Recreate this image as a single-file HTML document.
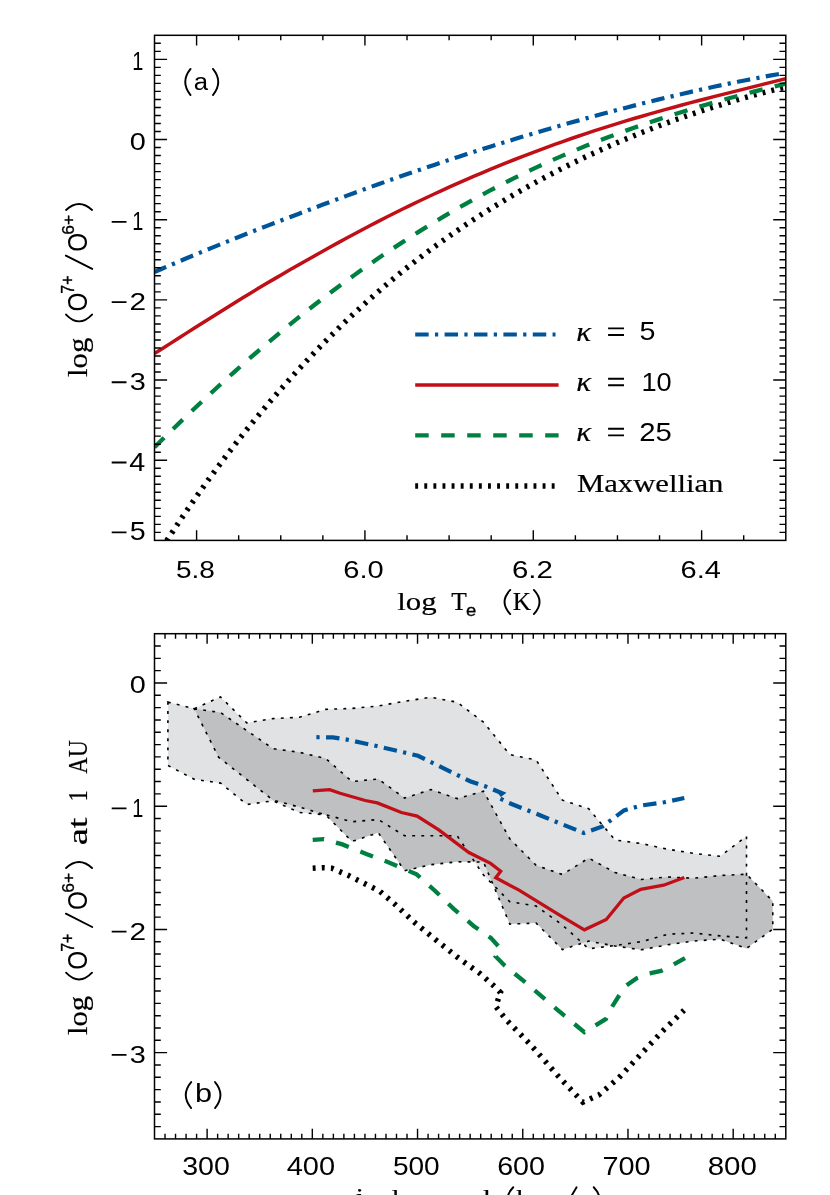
<!DOCTYPE html><html lang="en"><head><meta charset="utf-8"><title>fig</title><style>html,body{margin:0;padding:0;background:#fff}svg{display:block;will-change:transform}</style></head><body><svg width="830" height="1195" viewBox="0 0 830 1195"><rect width="830" height="1195" fill="#fff"/><defs><clipPath id="ca"><rect x="154.5" y="35.3" width="631.3" height="505.09999999999997"/></clipPath><clipPath id="cb"><rect x="154.5" y="633.7" width="631.3" height="505.20000000000005"/></clipPath></defs><g clip-path="url(#ca)" fill="none" stroke-linejoin="round"><path d="M154.5 559.84 L162.49 547.23 L170.48 534.89 L178.47 522.81 L186.46 510.99 L194.46 499.42 L202.45 488.1 L210.44 477.02 L218.43 466.18 L226.42 455.57 L234.41 445.19 L242.4 435.04 L250.39 425.1 L258.38 415.39 L266.38 405.88 L274.37 396.58 L282.36 387.46 L290.35 378.47 L298.34 369.68 L306.33 361.08 L314.32 352.66 L322.31 344.43 L330.31 336.39 L338.3 328.51 L346.29 320.81 L354.28 313.28 L362.27 305.91 L370.26 298.71 L378.25 291.67 L386.24 284.78 L394.23 278.04 L402.23 271.48 L410.22 265.13 L418.21 258.92 L426.2 252.86 L434.19 246.93 L442.18 241.13 L450.17 235.47 L458.16 229.93 L466.15 224.52 L474.15 219.23 L482.14 214.06 L490.13 209.01 L498.12 204.08 L506.11 199.25 L514.1 194.54 L522.09 189.94 L530.08 185.44 L538.07 181.04 L546.07 176.75 L554.06 172.56 L562.05 168.46 L570.04 164.46 L578.03 160.55 L586.02 156.74 L594.01 153.01 L602 149.37 L609.99 145.82 L617.99 142.35 L625.98 138.97 L633.97 135.67 L641.96 132.45 L649.95 129.31 L657.94 126.25 L665.93 123.26 L673.92 120.35 L681.92 117.51 L689.91 114.75 L697.9 112.06 L705.89 109.44 L713.88 106.89 L721.87 104.41 L729.86 102 L737.85 99.66 L745.84 97.39 L753.84 95.18 L761.83 93.04 L769.82 90.97 L777.81 88.96 L785.8 87.02" stroke="#000" stroke-width="5.5" stroke-dasharray="2.9 6.2" stroke-dashoffset="-4.4"/><path d="M154.5 447.2 L162.49 439.29 L170.48 431.47 L178.47 423.73 L186.46 416.07 L194.46 408.5 L202.45 401.02 L210.44 393.62 L218.43 386.29 L226.42 379.02 L234.41 371.84 L242.4 364.75 L250.39 357.74 L258.38 350.83 L266.38 344.01 L274.37 337.28 L282.36 330.65 L290.35 324.1 L298.34 317.65 L306.33 311.29 L314.32 305.02 L322.31 298.84 L330.31 292.76 L338.3 286.78 L346.29 280.9 L354.28 275.12 L362.27 269.43 L370.26 263.84 L378.25 258.34 L386.24 252.93 L394.23 247.61 L402.23 242.37 L410.22 237.2 L418.21 232.12 L426.2 227.14 L434.19 222.24 L442.18 217.43 L450.17 212.72 L458.16 208.09 L466.15 203.55 L474.15 199.09 L482.14 194.73 L490.13 190.47 L498.12 186.3 L506.11 182.21 L514.1 178.2 L522.09 174.28 L530.08 170.43 L538.07 166.67 L546.07 162.99 L554.06 159.39 L562.05 155.87 L570.04 152.46 L578.03 149.13 L586.02 145.86 L594.01 142.67 L602 139.56 L609.99 136.51 L617.99 133.53 L625.98 130.61 L633.97 127.76 L641.96 124.98 L649.95 122.25 L657.94 119.59 L665.93 116.99 L673.92 114.44 L681.92 111.94 L689.91 109.5 L697.9 107.12 L705.89 104.78 L713.88 102.48 L721.87 100.24 L729.86 98.03 L737.85 95.87 L745.84 93.75 L753.84 91.66 L761.83 89.61 L769.82 87.59 L777.81 85.6 L785.8 83.63" stroke="#008040" stroke-width="4.3" stroke-dasharray="13.5 12.5" stroke-dashoffset="0"/><path d="M154.5 353.62 L162.49 348.48 L170.48 343.35 L178.47 338.23 L186.46 333.13 L194.46 328.05 L202.45 322.98 L210.44 317.94 L218.43 312.93 L226.42 307.94 L234.41 302.98 L242.4 298.05 L250.39 293.16 L258.38 288.36 L266.38 283.6 L274.37 278.88 L282.36 274.2 L290.35 269.56 L298.34 264.96 L306.33 260.42 L314.32 255.91 L322.31 251.46 L330.31 247.06 L338.3 242.64 L346.29 238.28 L354.28 233.97 L362.27 229.72 L370.26 225.52 L378.25 221.38 L386.24 217.29 L394.23 213.26 L402.23 209.29 L410.22 205.38 L418.21 201.52 L426.2 197.72 L434.19 193.99 L442.18 190.31 L450.17 186.69 L458.16 183.13 L466.15 179.63 L474.15 176.2 L482.14 172.82 L490.13 169.49 L498.12 166.19 L506.11 162.94 L514.1 159.75 L522.09 156.62 L530.08 153.55 L538.07 150.53 L546.07 147.57 L554.06 144.66 L562.05 141.81 L570.04 139.01 L578.03 136.26 L586.02 133.56 L594.01 130.91 L602 128.32 L609.99 125.81 L617.99 123.34 L625.98 120.92 L633.97 118.54 L641.96 116.2 L649.95 113.9 L657.94 111.63 L665.93 109.4 L673.92 107.21 L681.92 105.04 L689.91 102.91 L697.9 100.8 L705.89 98.71 L713.88 96.65 L721.87 94.61 L729.86 92.59 L737.85 90.58 L745.84 88.58 L753.84 86.59 L761.83 84.61 L769.82 82.63 L777.81 80.65 L785.8 78.67" stroke="#c00f17" stroke-width="3.5"/><path d="M154.5 271.97 L162.49 268.5 L170.48 265.07 L178.47 261.67 L186.46 258.29 L194.46 254.95 L202.45 251.63 L210.44 248.35 L218.43 245.09 L226.42 241.86 L234.41 238.66 L242.4 235.48 L250.39 232.33 L258.38 229.2 L266.38 226.11 L274.37 223.03 L282.36 219.98 L290.35 216.96 L298.34 213.96 L306.33 210.9 L314.32 207.85 L322.31 204.83 L330.31 201.82 L338.3 198.84 L346.29 195.88 L354.28 192.95 L362.27 190.04 L370.26 187.15 L378.25 184.28 L386.24 181.43 L394.23 178.61 L402.23 175.81 L410.22 173.05 L418.21 170.32 L426.2 167.61 L434.19 164.92 L442.18 162.25 L450.17 159.6 L458.16 156.97 L466.15 154.37 L474.15 151.79 L482.14 149.23 L490.13 146.7 L498.12 144.19 L506.11 141.72 L514.1 139.27 L522.09 136.86 L530.08 134.46 L538.07 132.09 L546.07 129.74 L554.06 127.42 L562.05 125.12 L570.04 122.85 L578.03 120.61 L586.02 118.39 L594.01 116.19 L602 114.03 L609.99 111.89 L617.99 109.77 L625.98 107.69 L633.97 105.64 L641.96 103.61 L649.95 101.61 L657.94 99.65 L665.93 97.72 L673.92 95.81 L681.92 93.94 L689.91 92.1 L697.9 90.3 L705.89 88.53 L713.88 86.8 L721.87 85.1 L729.86 83.43 L737.85 81.81 L745.84 80.22 L753.84 78.67 L761.83 77.16 L769.82 75.69 L777.81 74.26 L785.8 72.88" stroke="#00559a" stroke-width="4.2" stroke-dasharray="13.4 6.27 3.23 6.36" stroke-dashoffset="0.7"/></g><g fill="none"><path d="M415.2 334.5H555.5" stroke="#00559a" stroke-width="4.2" stroke-dasharray="13.45 6.3 3.25 6.4"/><path d="M415.2 385H558.6" stroke="#c00f17" stroke-width="3.7"/><path d="M415.2 435.4H558.6" stroke="#008040" stroke-width="4.3" stroke-dasharray="13.5 12.5"/><path d="M415.2 486H555.5" stroke="#000" stroke-width="5.5" stroke-dasharray="2.9 6.2"/></g><path d="M196.59 540.4v-10.1M196.59 35.3v10.1M238.67 540.4v-5.05M238.67 35.3v5.05M280.76 540.4v-5.05M280.76 35.3v5.05M322.85 540.4v-5.05M322.85 35.3v5.05M364.93 540.4v-10.1M364.93 35.3v10.1M407.02 540.4v-5.05M407.02 35.3v5.05M449.11 540.4v-5.05M449.11 35.3v5.05M491.19 540.4v-5.05M491.19 35.3v5.05M533.28 540.4v-10.1M533.28 35.3v10.1M575.37 540.4v-5.05M575.37 35.3v5.05M617.45 540.4v-5.05M617.45 35.3v5.05M659.54 540.4v-5.05M659.54 35.3v5.05M701.63 540.4v-10.1M701.63 35.3v10.1M743.71 540.4v-5.05M743.71 35.3v5.05M154.5 532.38h6.3M785.8 532.38h-6.3M154.5 524.37h6.3M785.8 524.37h-6.3M154.5 516.35h6.3M785.8 516.35h-6.3M154.5 508.33h6.3M785.8 508.33h-6.3M154.5 500.31h6.3M785.8 500.31h-6.3M154.5 492.3h6.3M785.8 492.3h-6.3M154.5 484.28h6.3M785.8 484.28h-6.3M154.5 476.26h6.3M785.8 476.26h-6.3M154.5 468.24h6.3M785.8 468.24h-6.3M154.5 460.23h12.6M785.8 460.23h-12.6M154.5 452.21h6.3M785.8 452.21h-6.3M154.5 444.19h6.3M785.8 444.19h-6.3M154.5 436.17h6.3M785.8 436.17h-6.3M154.5 428.16h6.3M785.8 428.16h-6.3M154.5 420.14h6.3M785.8 420.14h-6.3M154.5 412.12h6.3M785.8 412.12h-6.3M154.5 404.1h6.3M785.8 404.1h-6.3M154.5 396.09h6.3M785.8 396.09h-6.3M154.5 388.07h6.3M785.8 388.07h-6.3M154.5 380.05h12.6M785.8 380.05h-12.6M154.5 372.03h6.3M785.8 372.03h-6.3M154.5 364.02h6.3M785.8 364.02h-6.3M154.5 356h6.3M785.8 356h-6.3M154.5 347.98h6.3M785.8 347.98h-6.3M154.5 339.96h6.3M785.8 339.96h-6.3M154.5 331.95h6.3M785.8 331.95h-6.3M154.5 323.93h6.3M785.8 323.93h-6.3M154.5 315.91h6.3M785.8 315.91h-6.3M154.5 307.89h6.3M785.8 307.89h-6.3M154.5 299.88h12.6M785.8 299.88h-12.6M154.5 291.86h6.3M785.8 291.86h-6.3M154.5 283.84h6.3M785.8 283.84h-6.3M154.5 275.82h6.3M785.8 275.82h-6.3M154.5 267.81h6.3M785.8 267.81h-6.3M154.5 259.79h6.3M785.8 259.79h-6.3M154.5 251.77h6.3M785.8 251.77h-6.3M154.5 243.75h6.3M785.8 243.75h-6.3M154.5 235.74h6.3M785.8 235.74h-6.3M154.5 227.72h6.3M785.8 227.72h-6.3M154.5 219.7h12.6M785.8 219.7h-12.6M154.5 211.68h6.3M785.8 211.68h-6.3M154.5 203.67h6.3M785.8 203.67h-6.3M154.5 195.65h6.3M785.8 195.65h-6.3M154.5 187.63h6.3M785.8 187.63h-6.3M154.5 179.61h6.3M785.8 179.61h-6.3M154.5 171.6h6.3M785.8 171.6h-6.3M154.5 163.58h6.3M785.8 163.58h-6.3M154.5 155.56h6.3M785.8 155.56h-6.3M154.5 147.54h6.3M785.8 147.54h-6.3M154.5 139.53h12.6M785.8 139.53h-12.6M154.5 131.51h6.3M785.8 131.51h-6.3M154.5 123.49h6.3M785.8 123.49h-6.3M154.5 115.47h6.3M785.8 115.47h-6.3M154.5 107.46h6.3M785.8 107.46h-6.3M154.5 99.44h6.3M785.8 99.44h-6.3M154.5 91.42h6.3M785.8 91.42h-6.3M154.5 83.4h6.3M785.8 83.4h-6.3M154.5 75.39h6.3M785.8 75.39h-6.3M154.5 67.37h6.3M785.8 67.37h-6.3M154.5 59.35h12.6M785.8 59.35h-12.6M154.5 51.33h6.3M785.8 51.33h-6.3M154.5 43.32h6.3M785.8 43.32h-6.3" stroke="#000" stroke-width="1.4" fill="none"/><rect x="154.5" y="35.3" width="631.3" height="505.1" fill="none" stroke="#000" stroke-width="1.5"/><g clip-path="url(#cb)" stroke-linejoin="miter"><path d="M167.9 702 L194.2 708.8 L220.5 696.9 L246.8 722.9 L273.1 718.6 L299.4 717.3 L325.7 709.4 L352 708.4 L378.3 706 L404.6 701.2 L430.9 697.3 L457.2 702.2 L483.5 722.2 L509.8 754.6 L536.1 760 L562.4 800.2 L588.7 808.7 L615 840 L641.3 843.5 L667.6 849.2 L693.9 853.4 L720.2 856.3 L746.5 836.2 L746.5 937.8 L720.2 935.9 L693.9 933 L667.6 934.3 L641.3 941.7 L615 945.5 L588.7 948.8 L562.4 925 L536.1 906 L509.8 901.7 L483.5 875.1 L457.2 835.8 L430.9 835.8 L404.6 835.8 L378.3 819.5 L352 821.7 L325.7 814.8 L299.4 812.5 L273.1 800.8 L246.8 804.5 L220.5 783.1 L194.2 779.3 L167.9 765.5Z" fill="#e1e2e3"/><path d="M194.2 708.8 L220.5 712.5 L246.8 730.6 L273.1 748.7 L299.4 752.3 L325.7 758.5 L352 781.5 L378.3 779 L404.6 798.1 L430.9 789.6 L457.2 798.6 L483.5 791.3 L509.8 838.8 L536.1 865.3 L562.4 874.5 L588.7 858.1 L615 872.5 L641.3 879.5 L667.6 877 L693.9 878.2 L720.2 875.5 L746.5 874.2 L772.8 901.2 L772.8 929.2 L746.5 948.4 L720.2 939.2 L693.9 941 L667.6 944.8 L641.3 949.8 L615 946 L588.7 941.1 L562.4 949.6 L536.1 923.1 L509.8 924.1 L483.5 862 L457.2 861.8 L430.9 864.7 L404.6 870.7 L378.3 832.7 L352 841.5 L325.7 814.9 L299.4 807.1 L273.1 800.2 L246.8 779.5 L218.6 757.2Z" fill="#bfc0c2"/><path d="M167.9 702 L194.2 708.8 L220.5 696.9 L246.8 722.9 L273.1 718.6 L299.4 717.3 L325.7 709.4 L352 708.4 L378.3 706 L404.6 701.2 L430.9 697.3 L457.2 702.2 L483.5 722.2 L509.8 754.6 L536.1 760 L562.4 800.2 L588.7 808.7 L615 840 L641.3 843.5 L667.6 849.2 L693.9 853.4 L720.2 856.3 L746.5 836.2 L746.5 937.8 L720.2 935.9 L693.9 933 L667.6 934.3 L641.3 941.7 L615 945.5 L588.7 948.8 L562.4 925 L536.1 906 L509.8 901.7 L483.5 875.1 L457.2 835.8 L430.9 835.8 L404.6 835.8 L378.3 819.5 L352 821.7 L325.7 814.8 L299.4 812.5 L273.1 800.8 L246.8 804.5 L220.5 783.1 L194.2 779.3 L167.9 765.5Z" fill="none" stroke="#000" stroke-width="1.6" stroke-dasharray="2.9 6.2"/><path d="M194.2 708.8 L220.5 712.5 L246.8 730.6 L273.1 748.7 L299.4 752.3 L325.7 758.5 L352 781.5 L378.3 779 L404.6 798.1 L430.9 789.6 L457.2 798.6 L483.5 791.3 L509.8 838.8 L536.1 865.3 L562.4 874.5 L588.7 858.1 L615 872.5 L641.3 879.5 L667.6 877 L693.9 878.2 L720.2 875.5 L746.5 874.2 L772.8 901.2 L772.8 929.2 L746.5 948.4 L720.2 939.2 L693.9 941 L667.6 944.8 L641.3 949.8 L615 946 L588.7 941.1 L562.4 949.6 L536.1 923.1 L509.8 924.1 L483.5 862 L457.2 861.8 L430.9 864.7 L404.6 870.7 L378.3 832.7 L352 841.5 L325.7 814.9 L299.4 807.1 L273.1 800.2 L246.8 779.5 L218.6 757.2Z" fill="none" stroke="#000" stroke-width="1.6" stroke-dasharray="2.9 6.2"/><path d="M312.7 868.2 L322.5 867.7 L331.8 868.2 L347.7 875.1 L363.6 883.1 L379.5 891 L394.1 903.5 L414 922 L435.2 939.3 L456.4 956.5 L480.2 973.7 L493.5 985.6 L500.5 992.5 L495.7 1006.5 L506.3 1019.8 L530.8 1044.9 L558.3 1076.2 L582.9 1102.2 L598.8 1095 L619 1077.6 L639.3 1055.9 L662.4 1031.3 L684.1 1010.2" fill="none" stroke="#000" stroke-width="5.5" stroke-dasharray="2.9 6.2"/><path d="M312.7 839.9 L323.9 839.1 L342.4 844.4 L366.3 853.9 L390.1 862.9 L416.6 874.3 L435.2 891 L453.7 908.8 L473.6 926 L490.8 937.9 L500.5 948.5 L495.7 956.5 L504.8 965.7 L525.1 982.2 L545.3 999.5 L564.1 1015.4 L584.3 1032.2 L606 1018.9 L612.4 1006.2 L619 995.8 L626.3 985.4 L636.4 978.4 L648 973.8 L661 970.9 L672.5 965.1 L685 958.2" fill="none" stroke="#008040" stroke-width="4.3" stroke-dasharray="13.5 12.5" stroke-dashoffset="2.2"/><path d="M312.8 790.8 L329.7 789.6 L340 793.3 L365.3 800.5 L377.3 802.9 L401.4 812.5 L417.1 816.1 L438.8 829.9 L468.9 852.5 L490.6 863.4 L500.7 871.3 L495.7 877.8 L518.6 889.9 L560 915.4 L584.4 929.8 L606.3 919.5 L623.8 898 L640.8 889.4 L663.6 885.2 L684.3 877.5" fill="none" stroke="#c00f17" stroke-width="3.3" stroke-linejoin="miter"/><path d="M316.4 737.2 L332.8 737.4 L346.8 739.6 L361.5 742.8 L375.5 745.8 L389.3 749 L403.5 752.3 L418 755.8 L431 762.2 L470.1 781.2 L484.6 786 L502.3 793.3 L497.3 797.2 L509 802.9 L521.6 808 L540 815.2 L560 823.4 L584 833 L602.5 826.5 L624 810.4 L641.3 805.5 L664.1 802.3 L684.3 798" fill="none" stroke="#00559a" stroke-width="4.2" stroke-dasharray="13.45 6.3 3.25 6.4" stroke-dashoffset="19.75"/></g><path d="M165.02 1138.9v-5.05M165.02 633.7v5.05M175.54 1138.9v-5.05M175.54 633.7v5.05M186.06 1138.9v-5.05M186.06 633.7v5.05M196.59 1138.9v-5.05M196.59 633.7v5.05M207.11 1138.9v-10.1M207.11 633.7v10.1M217.63 1138.9v-5.05M217.63 633.7v5.05M228.15 1138.9v-5.05M228.15 633.7v5.05M238.67 1138.9v-5.05M238.67 633.7v5.05M249.19 1138.9v-5.05M249.19 633.7v5.05M259.72 1138.9v-5.05M259.72 633.7v5.05M270.24 1138.9v-5.05M270.24 633.7v5.05M280.76 1138.9v-5.05M280.76 633.7v5.05M291.28 1138.9v-5.05M291.28 633.7v5.05M301.8 1138.9v-5.05M301.8 633.7v5.05M312.32 1138.9v-10.1M312.32 633.7v10.1M322.85 1138.9v-5.05M322.85 633.7v5.05M333.37 1138.9v-5.05M333.37 633.7v5.05M343.89 1138.9v-5.05M343.89 633.7v5.05M354.41 1138.9v-5.05M354.41 633.7v5.05M364.93 1138.9v-5.05M364.93 633.7v5.05M375.46 1138.9v-5.05M375.46 633.7v5.05M385.98 1138.9v-5.05M385.98 633.7v5.05M396.5 1138.9v-5.05M396.5 633.7v5.05M407.02 1138.9v-5.05M407.02 633.7v5.05M417.54 1138.9v-10.1M417.54 633.7v10.1M428.06 1138.9v-5.05M428.06 633.7v5.05M438.58 1138.9v-5.05M438.58 633.7v5.05M449.11 1138.9v-5.05M449.11 633.7v5.05M459.63 1138.9v-5.05M459.63 633.7v5.05M470.15 1138.9v-5.05M470.15 633.7v5.05M480.67 1138.9v-5.05M480.67 633.7v5.05M491.19 1138.9v-5.05M491.19 633.7v5.05M501.71 1138.9v-5.05M501.71 633.7v5.05M512.24 1138.9v-5.05M512.24 633.7v5.05M522.76 1138.9v-10.1M522.76 633.7v10.1M533.28 1138.9v-5.05M533.28 633.7v5.05M543.8 1138.9v-5.05M543.8 633.7v5.05M554.32 1138.9v-5.05M554.32 633.7v5.05M564.85 1138.9v-5.05M564.85 633.7v5.05M575.37 1138.9v-5.05M575.37 633.7v5.05M585.89 1138.9v-5.05M585.89 633.7v5.05M596.41 1138.9v-5.05M596.41 633.7v5.05M606.93 1138.9v-5.05M606.93 633.7v5.05M617.45 1138.9v-5.05M617.45 633.7v5.05M627.98 1138.9v-10.1M627.98 633.7v10.1M638.5 1138.9v-5.05M638.5 633.7v5.05M649.02 1138.9v-5.05M649.02 633.7v5.05M659.54 1138.9v-5.05M659.54 633.7v5.05M670.06 1138.9v-5.05M670.06 633.7v5.05M680.58 1138.9v-5.05M680.58 633.7v5.05M691.11 1138.9v-5.05M691.11 633.7v5.05M701.63 1138.9v-5.05M701.63 633.7v5.05M712.15 1138.9v-5.05M712.15 633.7v5.05M722.67 1138.9v-5.05M722.67 633.7v5.05M733.19 1138.9v-10.1M733.19 633.7v10.1M743.71 1138.9v-5.05M743.71 633.7v5.05M754.24 1138.9v-5.05M754.24 633.7v5.05M764.76 1138.9v-5.05M764.76 633.7v5.05M775.28 1138.9v-5.05M775.28 633.7v5.05M154.5 1126.58h6.3M785.8 1126.58h-6.3M154.5 1114.26h6.3M785.8 1114.26h-6.3M154.5 1101.93h6.3M785.8 1101.93h-6.3M154.5 1089.61h6.3M785.8 1089.61h-6.3M154.5 1077.29h6.3M785.8 1077.29h-6.3M154.5 1064.97h6.3M785.8 1064.97h-6.3M154.5 1052.65h12.6M785.8 1052.65h-12.6M154.5 1040.32h6.3M785.8 1040.32h-6.3M154.5 1028h6.3M785.8 1028h-6.3M154.5 1015.68h6.3M785.8 1015.68h-6.3M154.5 1003.36h6.3M785.8 1003.36h-6.3M154.5 991.04h6.3M785.8 991.04h-6.3M154.5 978.71h6.3M785.8 978.71h-6.3M154.5 966.39h6.3M785.8 966.39h-6.3M154.5 954.07h6.3M785.8 954.07h-6.3M154.5 941.75h6.3M785.8 941.75h-6.3M154.5 929.43h12.6M785.8 929.43h-12.6M154.5 917.1h6.3M785.8 917.1h-6.3M154.5 904.78h6.3M785.8 904.78h-6.3M154.5 892.46h6.3M785.8 892.46h-6.3M154.5 880.14h6.3M785.8 880.14h-6.3M154.5 867.82h6.3M785.8 867.82h-6.3M154.5 855.5h6.3M785.8 855.5h-6.3M154.5 843.17h6.3M785.8 843.17h-6.3M154.5 830.85h6.3M785.8 830.85h-6.3M154.5 818.53h6.3M785.8 818.53h-6.3M154.5 806.21h12.6M785.8 806.21h-12.6M154.5 793.89h6.3M785.8 793.89h-6.3M154.5 781.56h6.3M785.8 781.56h-6.3M154.5 769.24h6.3M785.8 769.24h-6.3M154.5 756.92h6.3M785.8 756.92h-6.3M154.5 744.6h6.3M785.8 744.6h-6.3M154.5 732.28h6.3M785.8 732.28h-6.3M154.5 719.95h6.3M785.8 719.95h-6.3M154.5 707.63h6.3M785.8 707.63h-6.3M154.5 695.31h6.3M785.8 695.31h-6.3M154.5 682.99h12.6M785.8 682.99h-12.6M154.5 670.67h6.3M785.8 670.67h-6.3M154.5 658.34h6.3M785.8 658.34h-6.3M154.5 646.02h6.3M785.8 646.02h-6.3" stroke="#000" stroke-width="1.4" fill="none"/><rect x="154.5" y="633.7" width="631.3" height="505.2" fill="none" stroke="#000" stroke-width="1.5"/><g fill="#000" style="font-kerning:none"><text transform="translate(132.281 69.652) scale(0.798 1)" font-size="25" font-family="Liberation Sans, sans-serif">1</text><text transform="translate(129.672 149.59) scale(1.188 1)" font-size="24.294" font-family="Liberation Sans, sans-serif">0</text><text transform="translate(132.281 230.002) scale(0.798 1)" font-size="25" font-family="Liberation Sans, sans-serif">1</text><text transform="translate(129.399 310.176) scale(1.212 1)" font-size="24.633" font-family="Liberation Sans, sans-serif">2</text><text transform="translate(129.799 390.114) scale(1.189 1)" font-size="24.294" font-family="Liberation Sans, sans-serif">3</text><text transform="translate(129.34 470.525) scale(1.151 1)" font-size="25" font-family="Liberation Sans, sans-serif">4</text><text transform="translate(129.751 540.356) scale(1.15 1)" font-size="24.937" font-family="Liberation Sans, sans-serif">5</text><text transform="translate(129.672 693.051) scale(1.188 1)" font-size="24.294" font-family="Liberation Sans, sans-serif">0</text><text transform="translate(132.281 816.507) scale(0.798 1)" font-size="25" font-family="Liberation Sans, sans-serif">1</text><text transform="translate(129.399 939.727) scale(1.212 1)" font-size="24.633" font-family="Liberation Sans, sans-serif">2</text><text transform="translate(129.799 1062.709) scale(1.189 1)" font-size="24.294" font-family="Liberation Sans, sans-serif">3</text><text transform="translate(175.878 577.661) scale(1.146 1)" font-size="24.435" font-family="Liberation Sans, sans-serif">5.8</text><text transform="translate(343.324 577.661) scale(1.19 1)" font-size="24.435" font-family="Liberation Sans, sans-serif">6.0</text><text transform="translate(511.907 577.661) scale(1.203 1)" font-size="24.435" font-family="Liberation Sans, sans-serif">6.2</text><text transform="translate(680.527 577.661) scale(1.187 1)" font-size="24.435" font-family="Liberation Sans, sans-serif">6.4</text><text transform="translate(182.211 1175.357) scale(1.15 1)" font-size="24.858" font-family="Liberation Sans, sans-serif">300</text><text transform="translate(286.734 1175.357) scale(1.167 1)" font-size="24.858" font-family="Liberation Sans, sans-serif">400</text><text transform="translate(392.876 1175.357) scale(1.129 1)" font-size="24.858" font-family="Liberation Sans, sans-serif">500</text><text transform="translate(497.146 1175.357) scale(1.152 1)" font-size="24.858" font-family="Liberation Sans, sans-serif">600</text><text transform="translate(602.419 1175.357) scale(1.162 1)" font-size="24.858" font-family="Liberation Sans, sans-serif">700</text><text transform="translate(707.718 1175.357) scale(1.187 1)" font-size="24.858" font-family="Liberation Sans, sans-serif">800</text><text transform="translate(193.808 89.665) scale(1.067 1)" font-size="24.094" font-family="Liberation Sans, sans-serif">a</text><text transform="translate(195.022 1102.254) scale(1.218 1)" font-size="25.191" font-family="Liberation Sans, sans-serif">b</text><text transform="translate(576.163 340.6) scale(1.113 1)" font-size="27.888" font-family="Liberation Serif, serif" font-style="italic" stroke="#000" stroke-width="0.2">κ</text><text transform="translate(639.551 340.252) scale(1.131 1)" font-size="25.367" font-family="Liberation Sans, sans-serif">5</text><text transform="translate(576.163 390.9) scale(1.113 1)" font-size="27.888" font-family="Liberation Serif, serif" font-style="italic" stroke="#000" stroke-width="0.2">κ</text><text transform="translate(641.43 390.556) scale(1.087 1)" font-size="25" font-family="Liberation Sans, sans-serif">10</text><text transform="translate(576.163 441) scale(1.113 1)" font-size="27.888" font-family="Liberation Serif, serif" font-style="italic" stroke="#000" stroke-width="0.2">κ</text><text transform="translate(639.226 440.656) scale(1.173 1)" font-size="25" font-family="Liberation Sans, sans-serif">25</text><text transform="translate(576.915 491.657) scale(1.234 1)" font-size="24.872" font-family="Liberation Serif, serif" stroke="#000" stroke-width="0.2">Maxwellian</text><text transform="translate(397.183 609.767) scale(1.225 1)" font-size="25.174" font-family="Liberation Serif, serif" stroke="#000" stroke-width="0.2">log</text><text transform="translate(451.139 609.7) scale(0.983 1)" font-size="25.963" font-family="Liberation Serif, serif" stroke="#000" stroke-width="0.2">T</text><text stroke="#000" stroke-width="0.35" transform="translate(465.912 616.032) scale(1.081 1)" font-size="17.158" font-family="Liberation Sans, sans-serif">e</text><text transform="translate(512.67 609.7) scale(0.975 1)" font-size="25.963" font-family="Liberation Serif, serif" stroke="#000" stroke-width="0.2">K</text><text transform="translate(336.5 1207.2) scale(1.12 1)" font-size="26" font-family="Liberation Serif, serif" stroke="#000" stroke-width="0.2">w</text><text transform="translate(355.7 1206.2) scale(1.12 1)" font-size="26" font-family="Liberation Serif, serif" stroke="#000" stroke-width="0.2">i</text><text transform="translate(364.5 1207.2) scale(1.12 1)" font-size="26" font-family="Liberation Serif, serif" stroke="#000" stroke-width="0.2">n</text><text transform="translate(384.3 1207.2) scale(1.12 1)" font-size="26" font-family="Liberation Serif, serif" stroke="#000" stroke-width="0.2">d</text><text transform="translate(416 1207.2) scale(1.12 1)" font-size="26" font-family="Liberation Serif, serif" stroke="#000" stroke-width="0.2">s</text><text transform="translate(428 1207.2) scale(1.12 1)" font-size="26" font-family="Liberation Serif, serif" stroke="#000" stroke-width="0.2">p</text><text transform="translate(444 1207.2) scale(1.12 1)" font-size="26" font-family="Liberation Serif, serif" stroke="#000" stroke-width="0.2">e</text><text transform="translate(458 1207.2) scale(1.12 1)" font-size="26" font-family="Liberation Serif, serif" stroke="#000" stroke-width="0.2">e</text><text transform="translate(475.5 1207.2) scale(1.12 1)" font-size="26" font-family="Liberation Serif, serif" stroke="#000" stroke-width="0.2">d</text><text transform="translate(515.9 1207.2) scale(1.12 1)" font-size="26" font-family="Liberation Serif, serif" stroke="#000" stroke-width="0.2">k</text><text transform="translate(532.5 1207.2) scale(1.12 1)" font-size="26" font-family="Liberation Serif, serif" stroke="#000" stroke-width="0.2">m</text><text transform="translate(579 1207.2) scale(1.12 1)" font-size="26" font-family="Liberation Serif, serif" stroke="#000" stroke-width="0.2">s</text><g transform="translate(87.4 376.4) rotate(-90)"><text transform="translate(-0.617 -0.184) scale(1.131 1)" font-size="27.263" font-family="Liberation Serif, serif" stroke="#000" stroke-width="0.2">log</text><text transform="translate(64.841 -0.069) scale(0.888 1)" font-size="27.542" font-family="Liberation Sans, sans-serif">O</text><text transform="translate(124.541 -0.069) scale(0.888 1)" font-size="27.542" font-family="Liberation Sans, sans-serif">O</text><text stroke="#000" stroke-width="0.35" transform="translate(82.676 -13.3) scale(0.906 1)" font-size="17.733" font-family="Liberation Sans, sans-serif">7+</text><text stroke="#000" stroke-width="0.35" transform="translate(141.716 -13.468) scale(1.01 1)" font-size="17.231" font-family="Liberation Sans, sans-serif">6+</text><path d="M61.85 -21.35Q48.25 -8.35 61.85 4.65M166.45 -21.35Q178.45 -8.35 166.45 4.65M107.5 4.8L120.8 -21.5" fill="none" stroke="#000" stroke-width="1.9" stroke-linecap="round"/></g><g transform="translate(87.4 1034.5) rotate(-90)"><text transform="translate(-0.617 -0.184) scale(1.131 1)" font-size="27.263" font-family="Liberation Serif, serif" stroke="#000" stroke-width="0.2">log</text><text transform="translate(64.841 -0.069) scale(0.888 1)" font-size="27.542" font-family="Liberation Sans, sans-serif">O</text><text transform="translate(124.541 -0.069) scale(0.888 1)" font-size="27.542" font-family="Liberation Sans, sans-serif">O</text><text stroke="#000" stroke-width="0.35" transform="translate(82.676 -13.3) scale(0.906 1)" font-size="17.733" font-family="Liberation Sans, sans-serif">7+</text><text stroke="#000" stroke-width="0.35" transform="translate(141.716 -13.468) scale(1.01 1)" font-size="17.231" font-family="Liberation Sans, sans-serif">6+</text><text transform="translate(189.329 -0.073) scale(1.392 1)" font-size="28" font-family="Liberation Serif, serif" stroke="#000" stroke-width="0.2">a</text><text transform="translate(206.324 -0.073) scale(1.376 1)" font-size="28" font-family="Liberation Serif, serif" stroke="#000" stroke-width="0.2">t</text><text transform="translate(232.903 0) scale(0.812 1)" font-size="28" font-family="Liberation Serif, serif" stroke="#000" stroke-width="0.2">1</text><text transform="translate(260.778 0) scale(0.81 1)" font-size="28" font-family="Liberation Serif, serif" stroke="#000" stroke-width="0.2">A</text><text transform="translate(277.203 0.027) scale(0.845 1)" font-size="28" font-family="Liberation Serif, serif" stroke="#000" stroke-width="0.2">U</text><path d="M61.85 -21.35Q48.25 -8.35 61.85 4.65M166.45 -21.35Q178.45 -8.35 166.45 4.65M107.5 4.8L120.8 -21.5" fill="none" stroke="#000" stroke-width="1.9" stroke-linecap="round"/></g></g><path d="M190.55 68.95Q179.95 82 190.55 95.05M212.95 68.95Q223.55 82 212.95 95.05M191.15 1082.05Q180.35 1095.05 191.15 1108.05M215.05 1082.05Q225.85 1095.05 215.05 1108.05M510.25 589.95Q498.85 602 510.25 614.05M533.85 589.95Q545.25 602 533.85 614.05M513.25 1187.25Q501.65 1199.4 513.25 1211.55M593.75 1187.25Q605.35 1199.4 593.75 1211.55M576.6 1187.2L562 1212" fill="none" stroke="#000" stroke-width="1.9" stroke-linecap="round"/><path d="M111.7 221.9H126.5M111.7 302.08H126.5M111.7 382.25H126.5M111.7 462.43H126.5M111.7 532.4H126.5M111.7 808.41H126.5M111.7 931.63H126.5M111.7 1054.85H126.5M608.1 328.4H624M608.1 335H624M608.1 378.7H624M608.1 385.3H624M608.1 428.8H624M608.1 435.4H624" fill="none" stroke="#000" stroke-width="1.9"/></svg></body></html>
